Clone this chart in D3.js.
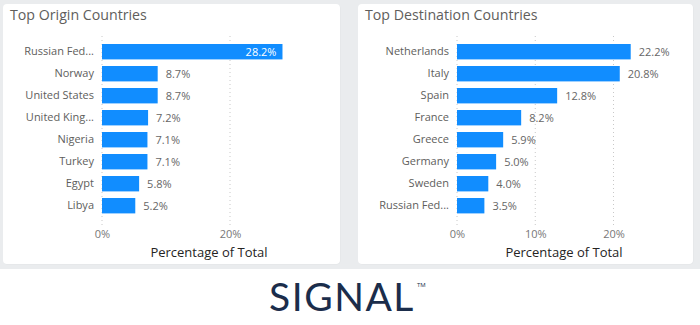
<!DOCTYPE html>
<html><head><meta charset="utf-8">
<script src="https://cdn.jsdelivr.net/npm/d3@7"></script>
<style>
html,body{margin:0;padding:0;background:#fff;}
svg{display:block;font-family:"Open Sans","Noto Sans",sans-serif;}
</style></head>
<body>
<svg id="c" width="700" height="325"></svg>
<script>
const originCountries = ["Russian Fed...","Norway","United States","United King...","Nigeria","Turkey","Egypt","Libya"];
const originValues = [28.2, 8.7, 8.7, 7.2, 7.1, 7.1, 5.8, 5.2];
const originTicks = [0, 20];
const destCountries = ["Netherlands","Italy","Spain","France","Greece","Germany","Sweden","Russian Fed..."];
const destValues = [22.2, 20.8, 12.8, 8.2, 5.9, 5.0, 4.0, 3.5];
const destTicks = [0, 10, 20];

const svg = d3.select("#c");
svg.append("rect").attr("x",0).attr("y",0).attr("width",700).attr("height",269).attr("fill","#eaecee");

function panel(opt){
  const g = svg.append("g");
  g.append("rect").attr("x",opt.px+0.5).attr("y",4.5).attr("width",opt.pw).attr("height",260)
    .attr("rx",4).attr("fill","#e2e4e6");
  g.append("rect").attr("x",opt.px).attr("y",4).attr("width",opt.pw).attr("height",260)
    .attr("rx",4).attr("fill","#ffffff");
  g.append("text").attr("x",opt.px+7).attr("y",20).attr("font-size",14.2).attr("fill","#605e5c")
    .text(opt.title);
  const x = d3.scaleLinear().domain([0,opt.max]).range([opt.x0, opt.x1]);
  const y = d3.scaleBand().domain(opt.cats).range([40.7, 216.7]).paddingInner(0.3).paddingOuter(0.15);
  g.selectAll("line.grid").data(opt.ticks).enter().append("line")
    .attr("x1",d=>x(d)).attr("x2",d=>x(d)).attr("y1",36).attr("y2",226)
    .attr("stroke","#c8c8c8").attr("stroke-width",1).attr("stroke-dasharray","1,3");
  const xa = g.append("g").attr("transform","translate(0,226)")
    .call(d3.axisBottom(x).tickValues(opt.ticks).tickFormat(d=>d+"%").tickSize(0).tickPadding(4));
  xa.select(".domain").remove();
  xa.selectAll("text").attr("font-size",11).attr("fill","#777").attr("font-family","'Open Sans',sans-serif");
  const ya = g.append("g").attr("transform",`translate(${opt.x0-8},0)`)
    .call(d3.axisLeft(y).tickSize(0).tickPadding(0));
  ya.select(".domain").remove();
  ya.selectAll("text").attr("font-size",11).attr("fill","#605e5c").attr("font-family","'Open Sans',sans-serif");
  const data = opt.cats.map((c,i)=>({c, v:opt.vals[i]}));
  g.selectAll("rect.bar").data(data).enter().append("rect")
    .attr("x",x(0)).attr("y",d=>y(d.c)).attr("width",d=>x(d.v)-x(0)).attr("height",y.bandwidth())
    .attr("fill","#118dff");
  g.selectAll("text.lbl").data(data).enter().append("text")
    .attr("x",d=> d.v>25 ? x(d.v)-6 : x(d.v)+8)
    .attr("y",d=>y(d.c)+y.bandwidth()/2).attr("dy","0.36em")
    .attr("text-anchor",d=> d.v>25 ? "end" : "start")
    .attr("font-size",11).attr("fill",d=> d.v>25 ? "#ffffff" : "#666")
    .text(d=>d.v.toFixed(1)+"%");
  g.append("text").attr("x",opt.titleX).attr("y",257).attr("text-anchor","middle")
    .attr("font-size",13).attr("fill","#252423").text("Percentage of Total");
}

panel({px:3, pw:337, title:"Top Origin Countries", cats:originCountries, vals:originValues,
  ticks:originTicks, max:20, x0:102, x1:230, titleX:209});
panel({px:358, pw:335, title:"Top Destination Countries", cats:destCountries, vals:destValues,
  ticks:destTicks, max:20, x0:457, x1:613.5, titleX:564});

svg.append("text").attr("x",342).attr("y",311).attr("text-anchor","middle")
  .attr("font-size",39).attr("letter-spacing",1.5).attr("fill","#1b2d4b")
  .attr("font-family","'Lato','Open Sans',sans-serif").text("SIGNAL");
svg.append("text").attr("x",417).attr("y",287).attr("font-size",6).attr("fill","#1b2d4b").text("TM");
</script>
</body></html>
